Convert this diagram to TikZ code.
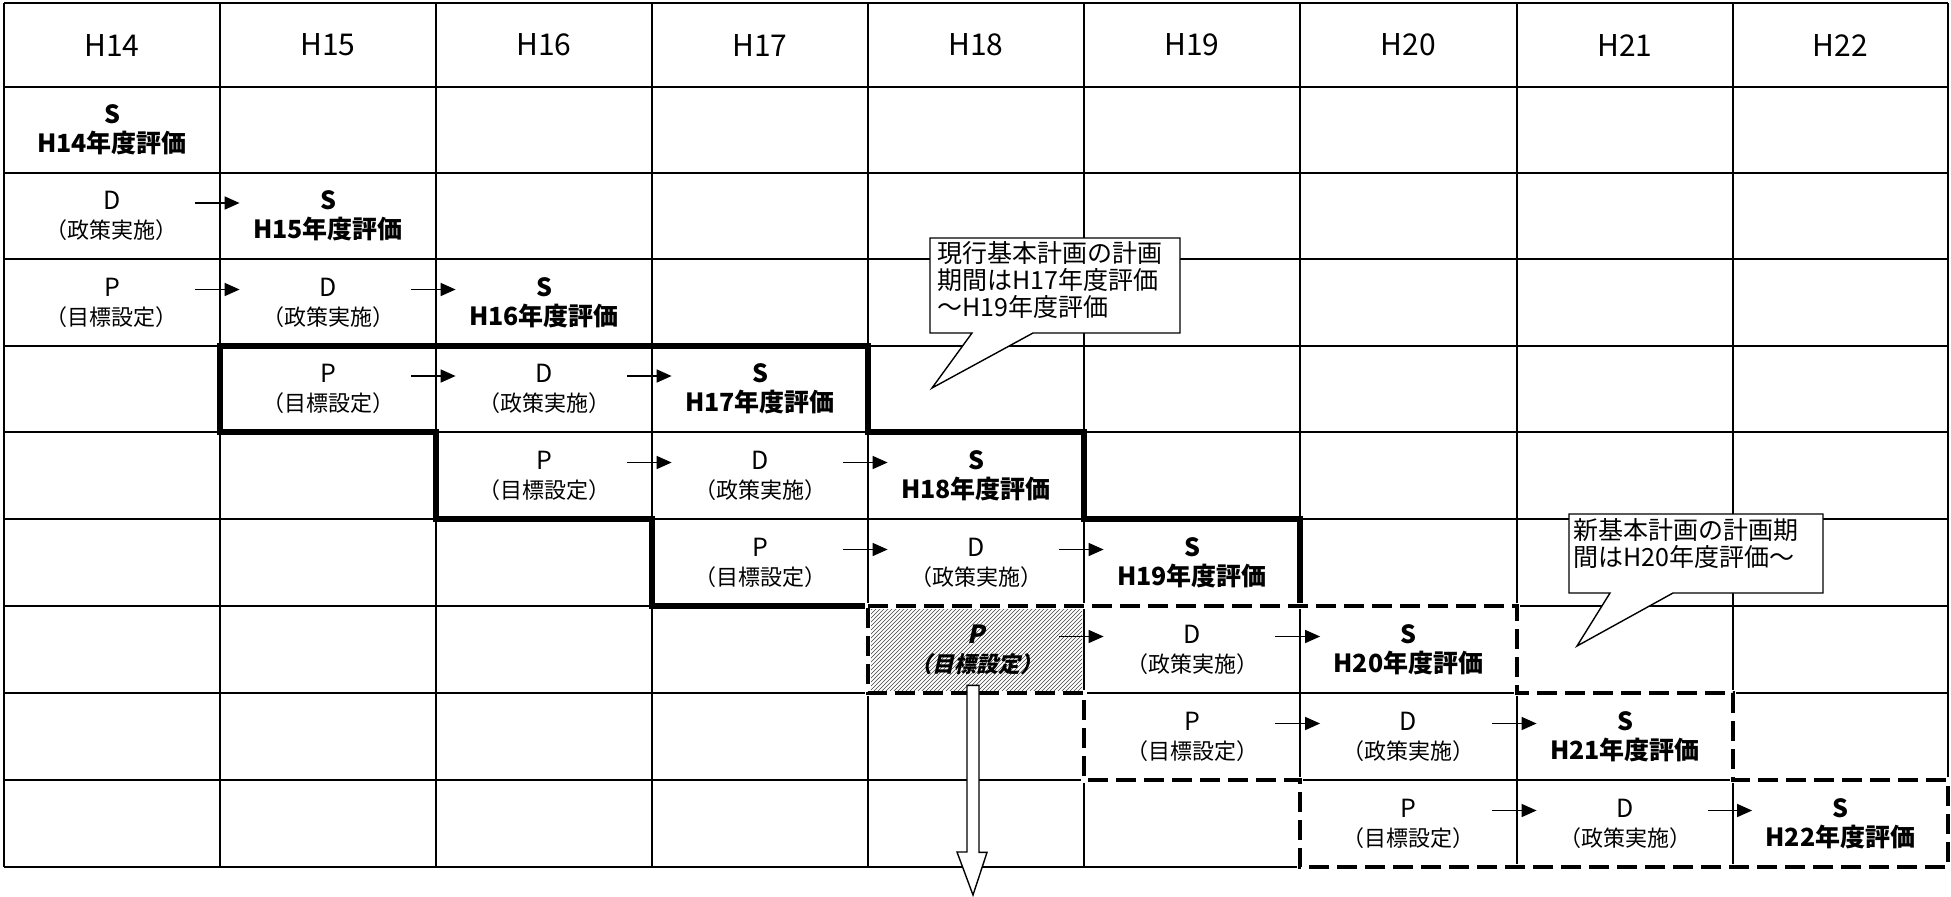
\documentclass[tikz,border=0pt]{standalone}
\usepackage{fontspec}
\setmainfont{Noto Sans CJK JP}
\newfontfamily\jpslant{Noto Sans CJK JP}[FakeSlant=0.22]
\newcommand\bigltr[1]{{\fontsize{12.5}{14.5}\selectfont #1}}
\usetikzlibrary{arrows.meta}
\begin{document}
\begin{tikzpicture}[x=0.5pt,y=-0.5pt,
  grid/.style={line width=1.3pt, black},
  thickline/.style={line width=2.6pt, line join=miter, black},
  dashline/.style={line width=2.4pt, dash pattern=on 10pt off 4pt, black},
  eraseline/.style={line width=3.4pt, white},
  hatch/.style={line width=0.3pt, black!75},
  cell/.style={minimum width=108pt, minimum height=43pt, inner sep=0pt, align=center},
  hdr/.style={cell, font=\fontsize{15}{18}\selectfont},
  reg/.style={cell, font=\fontsize{11}{14.5}\selectfont},
  bld/.style={cell, font=\bfseries\fontsize{12.5}{14.5}\selectfont},
  slt/.style={cell, font=\jpslant\bfseries\fontsize{11}{14.5}\selectfont},
  arr/.style={line width=0.8pt, -{Triangle[length=7.5pt,width=6.5pt]}},
  note/.style={align=left, anchor=north west, inner sep=0pt, font=\fontsize{12.5}{13.5}\selectfont},
  callout/.style={fill=white, draw=black, line width=0.7pt, line join=miter},
  bigarrow/.style={fill=white, draw=black, line width=0.7pt, line join=miter},
]
\useasboundingbox (0,0) rectangle (1951,896);
\fill[white] (0,0) rectangle (1951,896);

% grid
\foreach \x in {4,220,436,652,868,1084,1300,1517,1733,1948}
  \draw[grid] (\x,3) -- (\x,867);
\foreach \y in {3,87,173,259,346,432,519,606,693,780,867}
  \draw[grid] (4,\y) -- (1948,\y);

% thick outline (current plan)
\draw[thickline] (220,346) -- (868,346) -- (868,432) -- (1084,432) -- (1084,519)
  -- (1300,519) -- (1300,606) -- (652,606) -- (652,519) -- (436,519) -- (436,432)
  -- (220,432) -- cycle;

% dashed outline (new plan)
\draw[eraseline] (868,606) -- (1517,606) -- (1517,693) -- (1733,693) -- (1733,780)
  -- (1948,780) -- (1948,867) -- (1300,867) -- (1300,780) -- (1084,780) -- (1084,693)
  -- (868,693) -- cycle;
\draw[dashline] (868,606) -- (1517,606) -- (1517,693) -- (1733,693) -- (1733,780)
  -- (1948,780) -- (1948,867) -- (1300,867) -- (1300,780) -- (1084,780) -- (1084,693)
  -- (868,693) -- cycle;

% hatched cell
\begin{scope}
  \clip (871,609) rectangle (1082,690);
  \foreach \i in {-90,-86,...,220}
    \draw[hatch] (868+\i,695) -- ++(90,-90);
\end{scope}

% header
\node[hdr] (h0) at (112,45) {H14};
\node[hdr] (h1) at (328,45) {H15};
\node[hdr] (h2) at (544,45) {H16};
\node[hdr] (h3) at (760,45) {H17};
\node[hdr] (h4) at (976,45) {H18};
\node[hdr] (h5) at (1192,45) {H19};
\node[hdr] (h6) at (1408.5,45) {H20};
\node[hdr] (h7) at (1625,45) {H21};
\node[hdr] (h8) at (1840.5,45) {H22};

% rows
\node[bld] (c10) at (112,130) {S\\H14年度評価};

\node[reg] (c20) at (112,216) {\bigltr{D}\\（政策実施）};
\node[bld] (c21) at (328,216) {S\\H15年度評価};

\node[reg] (c30) at (112,302.5) {\bigltr{P}\\（目標設定）};
\node[reg] (c31) at (328,302.5) {\bigltr{D}\\（政策実施）};
\node[bld] (c32) at (544,302.5) {S\\H16年度評価};

\node[reg] (c41) at (328,389) {\bigltr{P}\\（目標設定）};
\node[reg] (c42) at (544,389) {\bigltr{D}\\（政策実施）};
\node[bld] (c43) at (760,389) {S\\H17年度評価};

\node[reg] (c52) at (544,475.5) {\bigltr{P}\\（目標設定）};
\node[reg] (c53) at (760,475.5) {\bigltr{D}\\（政策実施）};
\node[bld] (c54) at (976,475.5) {S\\H18年度評価};

\node[reg] (c63) at (760,562.5) {\bigltr{P}\\（目標設定）};
\node[reg] (c64) at (976,562.5) {\bigltr{D}\\（政策実施）};
\node[bld] (c65) at (1192,562.5) {S\\H19年度評価};

\node[slt] (c74) at (976,649.5) {\bigltr{P}\\（目標設定）};
\node[reg] (c75) at (1192,649.5) {\bigltr{D}\\（政策実施）};
\node[bld] (c76) at (1408.5,649.5) {S\\H20年度評価};

\node[reg] (c85) at (1192,736.5) {\bigltr{P}\\（目標設定）};
\node[reg] (c86) at (1408.5,736.5) {\bigltr{D}\\（政策実施）};
\node[bld] (c87) at (1625,736.5) {S\\H21年度評価};

\node[reg] (c96) at (1408.5,823.5) {\bigltr{P}\\（目標設定）};
\node[reg] (c97) at (1625,823.5) {\bigltr{D}\\（政策実施）};
\node[bld] (c98) at (1840.5,823.5) {S\\H22年度評価};

% small arrows
\foreach \a/\b in {c20/c21,c30/c31,c31/c32,c41/c42,c42/c43,c52/c53,c53/c54,
                   c63/c64,c64/c65,c74/c75,c75/c76,c85/c86,c86/c87,c96/c97,c97/c98}
  \draw[arr] ([xshift=-12.5pt,yshift=6.5pt]\a.east) -- ([xshift=10pt,yshift=6.5pt]\b.west);

% big hollow arrow
\coordinate (futuretip) at (973,895);
\draw[bigarrow] ([xshift=-4.5pt,yshift=3.75pt]c74.south) -- ++(12,0) -- ++(0,167)
  -- ++(8,0) -- (futuretip) -- ++(-16,-43) -- ++(10,0) -- cycle;

% callout 1
\draw[callout] (930,238) -- (1180,238) -- (1180,333) -- (1033,333) -- (932,388)
  -- (972,333) -- (930,333) -- cycle;
\node[note] (note1) at (937,241.5) {現行基本計画の計画\\期間はH17年度評価\\～H19年度評価};

% callout 2
\draw[callout] (1569,514) -- (1823,514) -- (1823,593) -- (1673,593) -- (1577,646)
  -- (1610,593) -- (1569,593) -- cycle;
\node[note] (note2) at (1573,518.5) {新基本計画の計画期\\間はH20年度評価～};
\end{tikzpicture}
\end{document}
